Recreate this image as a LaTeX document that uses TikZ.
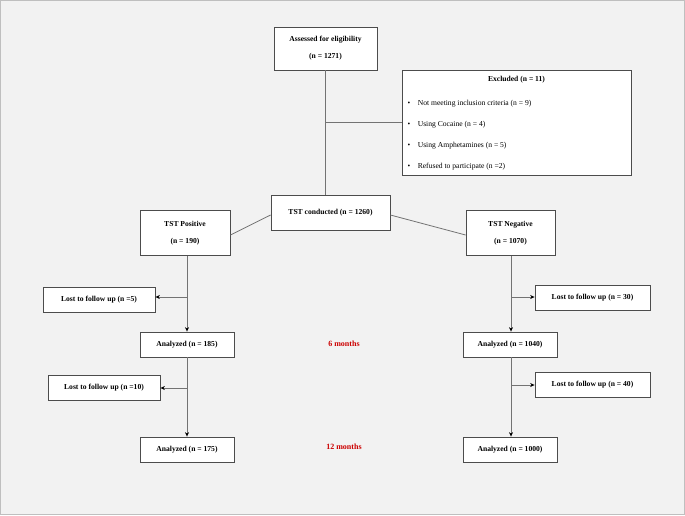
\documentclass[tikz,border=0pt]{standalone}
\usepackage{fontspec}
\setmainfont{Liberation Serif}
\usetikzlibrary{arrows.meta}
\tikzset{
  flowbox/.style={draw=black!70, fill=white, line width=0.8pt, inner sep=0pt, align=center, font=\fontsize{7.6}{9}\selectfont\bfseries},
  link/.style={draw=black!55, line width=0.8pt},
  arr/.style={link, -{Stealth[length=4.5pt,width=4pt,black]}},
  period/.style={text=red!80!black, font=\fontsize{8}{9}\selectfont\bfseries}
}
\begin{document}
\begin{tikzpicture}[x=1pt,y=-1pt]
    \fill[black!5] (0,0) rectangle (685,515);
    \draw[black!25] (0.5,0.5) rectangle (684.5,514.5);
    \useasboundingbox (0,0) rectangle (685,515);

    % boxes
    \node[flowbox, minimum width=103, minimum height=43] (assess) at (325.5,48.5) {Assessed for eligibility\\[8pt](n = 1271)};
    \node[flowbox, minimum width=229, minimum height=105] (excl) at (516.5,123) {};
    \node[font=\fontsize{7.6}{9}\selectfont\bfseries] at (516.5,80) {Excluded (n = 11)};
    \node[anchor=west, font=\fontsize{7.6}{9}\selectfont, align=left] at (404,135) {\textbullet\quad Not meeting inclusion criteria (n = 9)\\[12pt]\textbullet\quad Using Cocaine (n = 4)\\[12pt]\textbullet\quad Using Amphetamines (n = 5)\\[12pt]\textbullet\quad Refused to participate (n =2)};
    \node[flowbox, minimum width=119, minimum height=35] (tst) at (330.5,212.5) {TST conducted (n = 1260)};
    \node[flowbox, minimum width=90, minimum height=45] (pos) at (185,233) {TST Positive\\[8pt](n = 190)};
    \node[flowbox, minimum width=89, minimum height=45] (neg) at (510.5,233) {TST Negative\\[8pt](n = 1070)};

    \node[flowbox, minimum width=112, minimum height=25] (lostA) at (99,299.5) {Lost to follow up (n =5)};
    \node[flowbox, minimum width=115, minimum height=25] (lostB) at (592.5,297.5) {Lost to follow up (n = 30)};
    \node[flowbox, minimum width=94, minimum height=25] (anaA) at (187,344.5) {Analyzed (n = 185)};
    \node[flowbox, minimum width=94, minimum height=25] (anaB) at (510,344.5) {Analyzed (n = 1040)};
    \node[flowbox, minimum width=112, minimum height=25] (lostC) at (104,387.5) {Lost to follow up (n =10)};
    \node[flowbox, minimum width=115, minimum height=25] (lostD) at (592.5,385) {Lost to follow up (n = 40)};
    \node[flowbox, minimum width=94, minimum height=25] (anaC) at (187,449.5) {Analyzed (n = 175)};
    \node[flowbox, minimum width=94, minimum height=25] (anaD) at (510,449.5) {Analyzed (n = 1000)};

    \node[period] (six) at (344,344) {6 months};
    \node[period] (twelve) at (344,447) {12 months};

    % connectors
    \coordinate (jx) at (325.5,122);
    \draw[link] (assess.south) -- (tst.north -| assess.south);
    \draw[link] (jx) -- (excl.west |- jx);
    \draw[link] (tst.west |- 0,215) -- (pos.east |- 0,235);
    \draw[link] (tst.east |- 0,215) -- (neg.west |- 0,235);

    \coordinate (ja) at (187,297);
    \coordinate (jb) at (511,297);
    \coordinate (jc) at (187,388);
    \coordinate (jd) at (511,385);
    \draw[arr] (pos.south -| ja) -- (anaA.north);
    \draw[arr] (ja) -- (lostA.east |- ja);
    \draw[arr] (neg.south -| jb) -- (anaB.north -| jb);
    \draw[arr] (jb) -- (lostB.west |- jb);
    \draw[arr] (anaA.south) -- (anaC.north);
    \draw[arr] (jc) -- (lostC.east |- jc);
    \draw[arr] (anaB.south -| jd) -- (anaD.north -| jd);
    \draw[arr] (jd) -- (lostD.west |- jd);
\end{tikzpicture}
\end{document}
